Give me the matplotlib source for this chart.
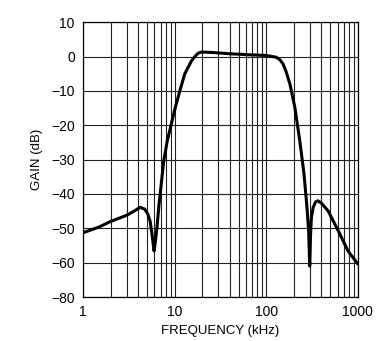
import matplotlib

matplotlib.use("Agg")

import matplotlib.pyplot as plt
from matplotlib.ticker import FixedLocator, FixedFormatter, NullFormatter, NullLocator

# values
FREQ_KHZ = [1.0, 1.5, 2.0, 3.0, 3.6, 4.2, 4.7, 5.1, 5.4, 5.7, 5.95, 6.15, 6.4,
            6.75, 7.0, 7.6, 8.3, 9.1, 10.0, 11.4, 12.9, 15.3, 17.0, 18.1, 19.7,
            25.0, 40.0, 66.5, 100.0, 128.0, 140.0, 152.0, 165.0, 181.0, 205.0,
            232.0, 258.0, 278.0, 290.0, 298.0, 304.0, 311.0, 325.0, 345.0,
            366.0, 400.0, 472.0, 610.0, 780.0, 1000.0]
GAIN_DB = [-51.3, -49.6, -48.0, -46.2, -45.0, -43.9, -44.4, -45.9, -48.0, -52.5,
           -56.6, -54.0, -49.8, -42.9, -39.1, -30.3, -24.5, -20.1, -15.5, -9.9,
           -5.0, -1.2, 0.3, 1.0, 1.3, 1.2, 0.8, 0.5, 0.3, -0.2, -0.9, -2.1,
           -4.5, -8.0, -14.8, -24.5, -34.2, -43.9, -51.0, -61.0, -52.0, -46.8,
           -43.9, -42.3, -42.0, -42.7, -44.9, -50.7, -56.6, -60.4]

Y_TICKS = [10, 0, -10, -20, -30, -40, -50, -60, -70]
Y_LABELS = ["10", "0", "\u221210", "\u221220", "\u221230", "\u221240", "\u221250",
            "\u221260", "\u221280"]
X_TICKS = [1, 10, 100, 1000]
X_LABELS = ["1", "10", "100", "1000"]

FONT = ["Liberation Sans Narrow", "Liberation Sans", "DejaVu Sans"]
plt.rcParams["font.family"] = FONT

fig = plt.figure(figsize=(3.92, 3.41), dpi=100, facecolor="white")
ax = fig.add_axes([0.212, 0.129, 0.701, 0.806])

ax.set_xscale("log")
ax.set_xlim(1, 1000)
ax.set_ylim(-70, 10)

minor = [m * 10 ** d for d in range(3) for m in range(2, 10)]
ax.xaxis.set_major_locator(FixedLocator(X_TICKS))
ax.xaxis.set_major_formatter(FixedFormatter(X_LABELS))
ax.xaxis.set_minor_locator(FixedLocator(minor))
ax.xaxis.set_minor_formatter(NullFormatter())
ax.yaxis.set_major_locator(FixedLocator(Y_TICKS))
ax.yaxis.set_major_formatter(FixedFormatter(Y_LABELS))
ax.yaxis.set_minor_locator(NullLocator())

ax.grid(which="both", axis="x", color="#222222", linewidth=0.8)
ax.grid(which="major", axis="y", color="#222222", linewidth=0.8)
ax.tick_params(which="both", length=0, labelsize=10, pad=6)
for spine in ax.spines.values():
    spine.set_color("black")
    spine.set_linewidth(0.9)

ax.plot(FREQ_KHZ, GAIN_DB, color="black", linewidth=2.2,
        solid_joinstyle="round", solid_capstyle="round", zorder=3)

ax.set_xlabel("FREQUENCY (kHz)", fontsize=9.5, labelpad=4)
ax.set_ylabel("GAIN (dB)", fontsize=9.5, labelpad=6)

fig.savefig("out.png", dpi=100, facecolor="white")
